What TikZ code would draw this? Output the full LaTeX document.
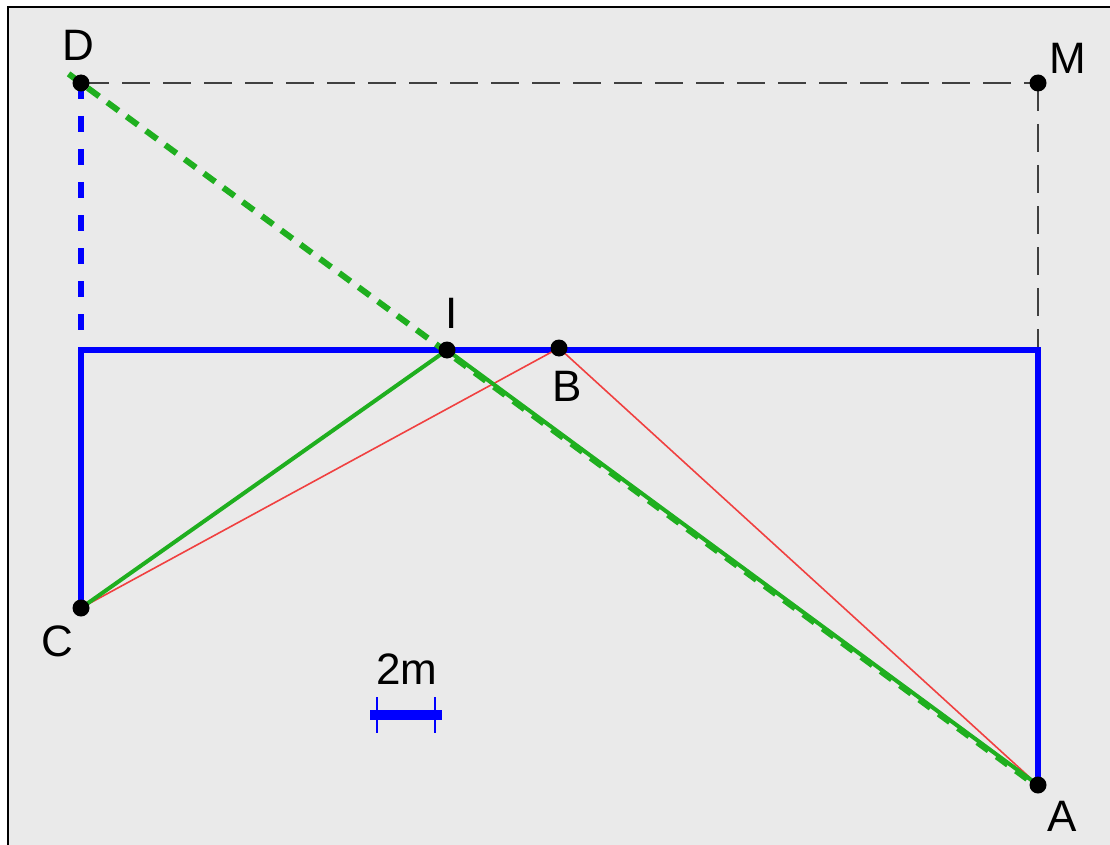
\documentclass[tikz,border=0pt]{standalone}
\usepackage{fontspec}
\setmainfont{Liberation Sans}
\usetikzlibrary{calc}
\definecolor{bg}{HTML}{EAEAEA}
\definecolor{gblue}{HTML}{0000FF}
\definecolor{ggreen}{HTML}{1FAF1F}
\definecolor{gred}{HTML}{F04040}
\definecolor{ggray}{HTML}{404040}
\tikzset{
  pt/.style={circle,fill=black,inner sep=0pt,minimum size=17pt},
  lbl/.style={font=\fontsize{44}{44}\selectfont,inner sep=0pt},
  blueline/.style={gblue,line width=5.5pt},
  guide/.style={ggray,line width=2pt,dash pattern=on 28pt off 13pt},
}
\begin{document}
\begin{tikzpicture}[x=1pt,y=-1pt]
\useasboundingbox (0,0) rectangle (1110,845);
\fill[white] (0,0) rectangle (1110,845);
\fill[bg] (8,7) rectangle (1110,845);
\draw[black,line width=2.5pt] (8,845) -- (8,7) -- (1110,7);
% points
\coordinate (D) at (81,83);
\coordinate (M) at (1038,83);
\coordinate (C) at (81,608);
\coordinate (A) at (1038,785);
\coordinate (I) at (447,350);
\coordinate (B) at (559,348);
\coordinate (L) at (81,350);
\coordinate (R) at (1038,350);
% guides
\draw[guide] (D) -- (M);
\draw[guide] (M) -- (R);
\draw[gblue,line width=5.5pt,dash pattern=on 16pt off 17pt] (D) -- (L);
% blue frame
\draw[blueline] (C) -- (L) -- (R) -- (A);
% green dashed diagonal
\coordinate (D0) at ($(D)!-0.013!(A)$);
\draw[ggreen,line width=6pt,dash pattern=on 14pt off 10pt] (D0) -- ($(A)+(0,2)$);
% red
\draw[gred,line width=1.6pt] (C) -- (B) -- (A);
% green solid
\draw[ggreen,line width=4pt] (C) -- (I) -- (A);
% dots
\foreach \p in {D,M,C,A,I,B} \node[pt] (n\p) at (\p) {};
% labels
\node[lbl] (tD) at (78,45) {D};
\node[lbl] (tM) at (1068,58) {M};
\node[lbl] (tI) at (452,313) {I};
\node[lbl] (tB) at (567,386) {B};
\node[lbl] (tC) at (57,641) {C};
\node[lbl] (tA) at (1062,816) {A};
\node[lbl] (t2m) at (407,669) {2m};
% scale bar
\coordinate (s1) at (370,715);
\coordinate (s2) at (442,715);
\draw[gblue,line width=10pt] (s1) -- (s2);
\draw[gblue,line width=2pt] ($(s1)+(7,-18)$) -- ($(s1)+(7,18)$);
\draw[gblue,line width=2pt] ($(s2)+(-7,-18)$) -- ($(s2)+(-7,18)$);
\end{tikzpicture}
\end{document}
